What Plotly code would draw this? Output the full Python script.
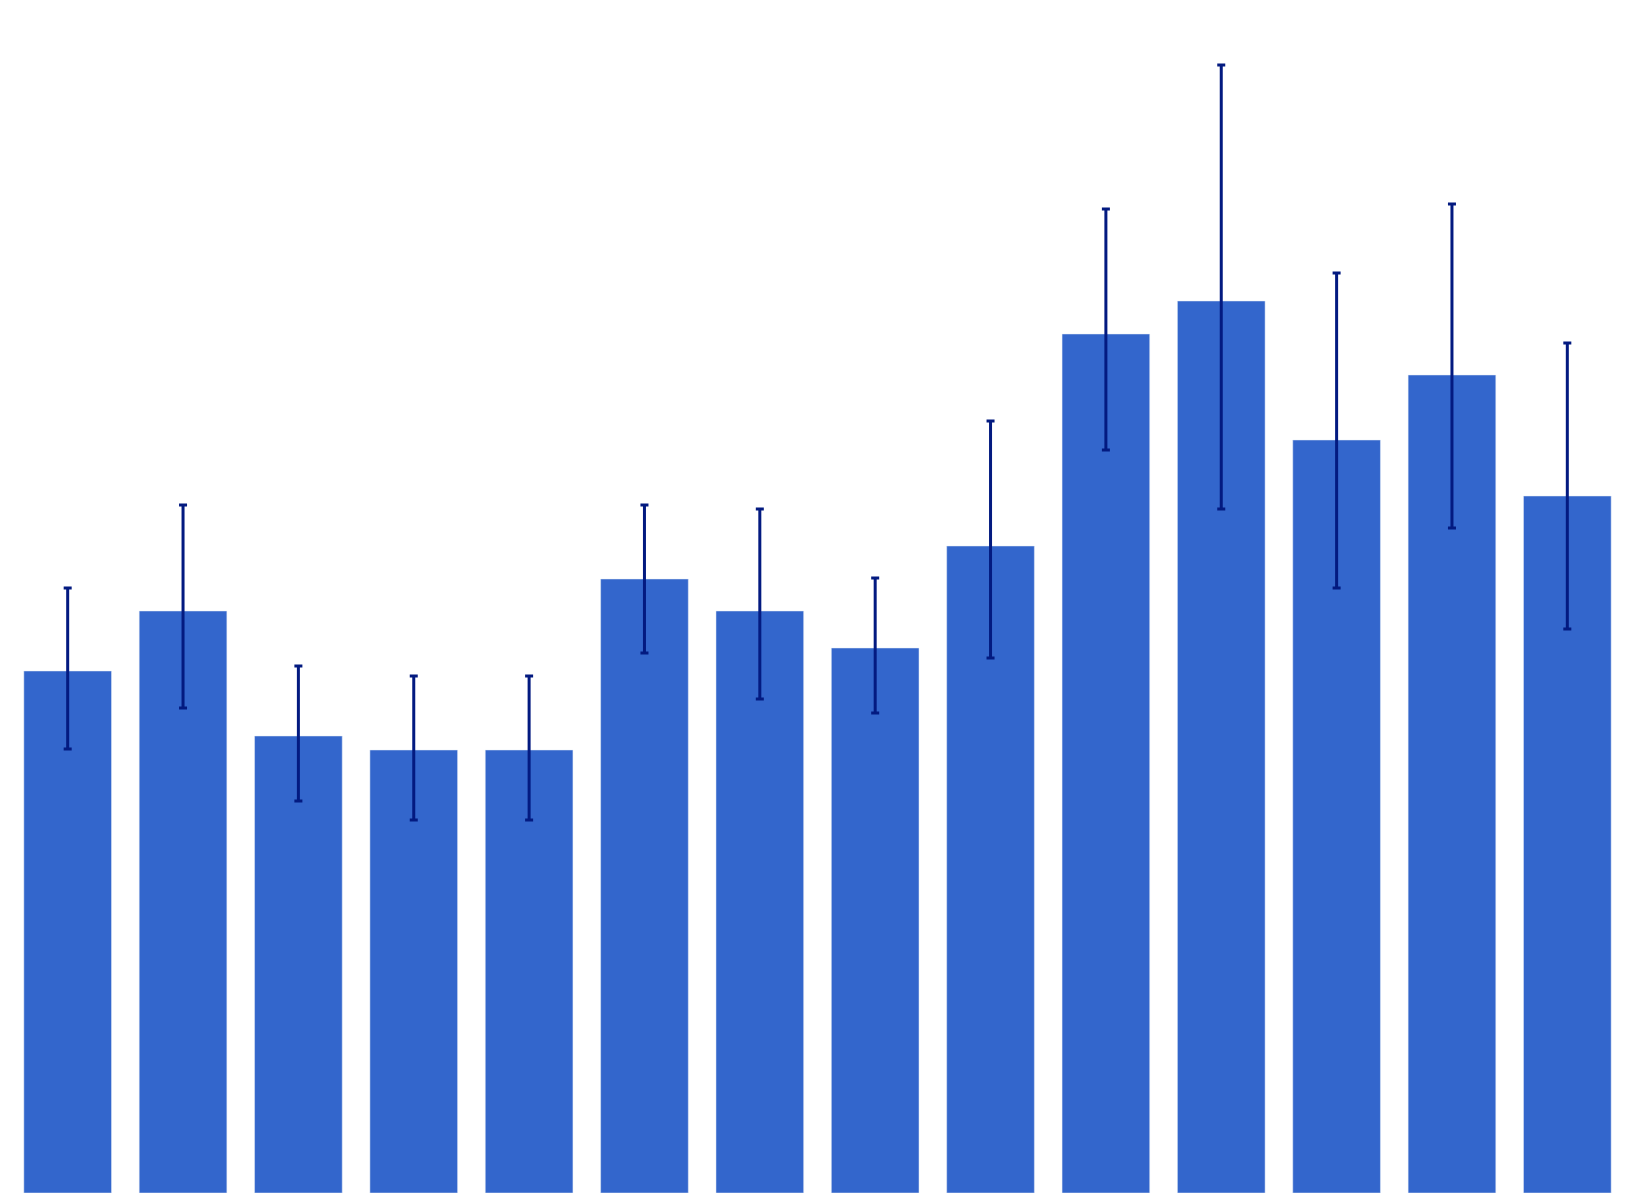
import plotly.graph_objects as go

categories = [f"C{i}" for i in range(1, 15)]
values = [5.22, 5.82, 4.57, 4.43, 4.43, 6.14, 5.82, 5.45, 6.47, 8.59, 8.92, 7.53, 8.18, 6.97]
err_plus = [0.83, 1.06, 0.70, 0.74, 0.74, 0.74, 1.02, 0.70, 1.25, 1.25, 2.36, 1.67, 1.71, 1.53]
err_minus = [0.78, 0.97, 0.65, 0.70, 0.70, 0.74, 0.88, 0.65, 1.12, 1.16, 2.08, 1.48, 1.53, 1.33]

fig = go.Figure(
    go.Bar(
        x=categories,
        y=values,
        marker=dict(color="#3366CC", line=dict(color="#E5ECF6", width=0.5)),
        error_y=dict(
            type="data",
            array=err_plus,
            arrayminus=err_minus,
            symmetric=False,
            color="#031a80",
            thickness=3,
            width=4,
        ),
    )
)

fig.update_layout(
    width=1618,
    height=1187,
    margin=dict(l=2, r=1, t=2, b=2),
    paper_bgcolor="white",
    plot_bgcolor="white",
    bargap=0.24,
    showlegend=False,
    xaxis=dict(visible=False),
    yaxis=dict(visible=False, range=[0, 11.83]),
)

fig.write_html("out.html")
